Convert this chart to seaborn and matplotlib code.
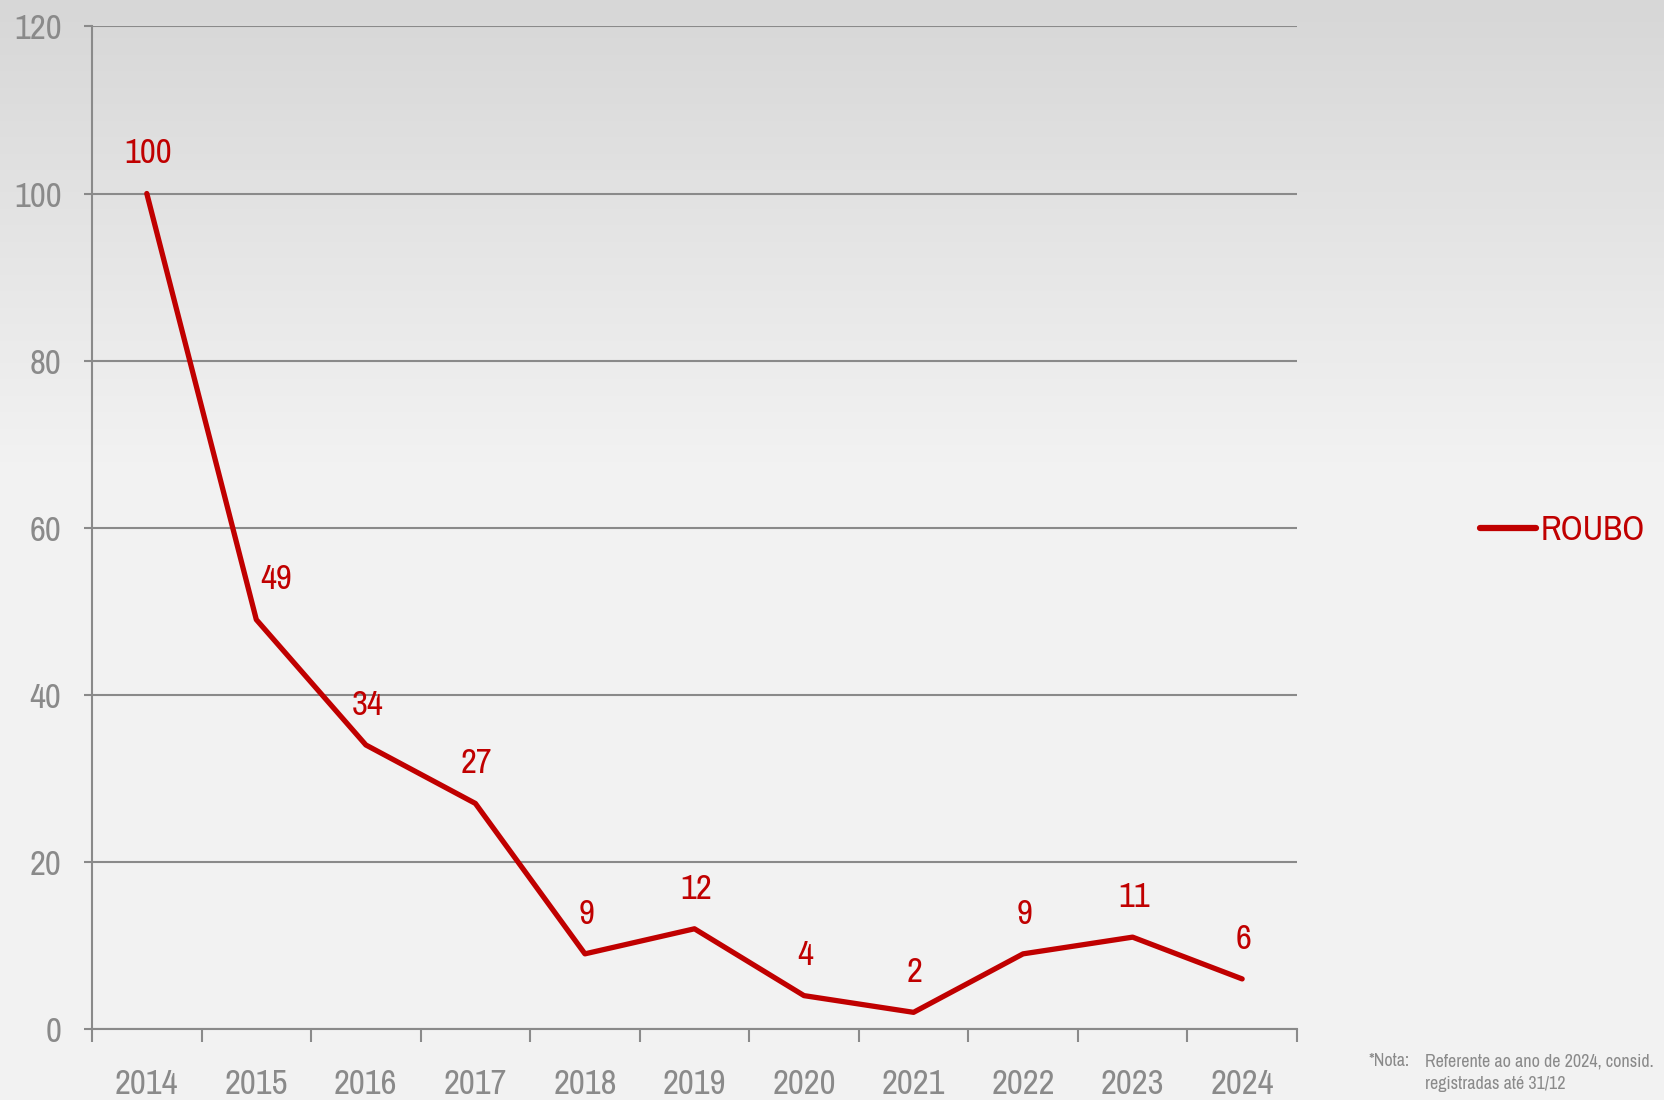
import numpy as np
import pandas as pd
import matplotlib
matplotlib.use("Agg")
import matplotlib.pyplot as plt
import seaborn as sns
from matplotlib import font_manager as fm
from matplotlib.ticker import FixedLocator

# ============================
# Dados
# ============================
anos = ["2014", "2015", "2016", "2017", "2018", "2019",
        "2020", "2021", "2022", "2023", "2024"]
roubo = [100, 49, 34, 27, 9, 12, 4, 2, 9, 11, 6]
yticks = [0, 20, 40, 60, 80, 100, 120]

vermelho = "#c00000"
cinza = "#8a8a8a"

sns.set_style("white")

# fonte estreita, se houver alguma instalada
estreitas = [f for f in fm.fontManager.ttflist
             if f.stretch in ("condensed", "semi-condensed", "extra-condensed")
             or "Narrow" in f.name or "Condensed" in f.name]
nomes = sorted({f.name for f in estreitas})
fonte = nomes[0] if nomes else "DejaVu Sans"
plt.rcParams["font.family"] = [fonte, "DejaVu Sans"]
plt.rcParams["font.stretch"] = "condensed"
plt.rcParams["font.weight"] = "bold"

df = pd.DataFrame({"pos": np.arange(len(anos)), "valor": roubo})

fig = plt.figure(figsize=(16.64, 11), dpi=100)

# fundo em degradê
bg = fig.add_axes([0, 0, 1, 1], zorder=-10)
t = np.clip(np.linspace(0, 1, 200) / 0.42, 0, 1)
topo = np.array([0xd7, 0xd7, 0xd7]) / 255
base = np.array([0xf2, 0xf2, 0xf2]) / 255
cores = (topo + (base - topo) * t[:, None])[:, None, :]
bg.imshow(cores, aspect="auto", extent=[0, 1, 0, 1], origin="upper")
bg.axis("off")

ax = fig.add_axes([0.0553, 0.0645, 0.7241, 0.9115])
ax.patch.set_alpha(0)

sns.lineplot(data=df, x="pos", y="valor", ax=ax, color=vermelho,
             linewidth=3.8, label="ROUBO")

# rótulos dos valores
for x, v in zip(df["pos"], df["valor"]):
    dx = 14 if v == 49 else 1
    ax.annotate(str(v), (x, v), xytext=(dx, 29), textcoords="offset points",
                ha="center", va="center", fontsize=25, color=vermelho)

ax.set_xlim(-0.5, len(anos) - 0.5)
ax.set_ylim(0, 120)
ax.set_yticks(yticks)
ax.set_yticklabels([str(y) for y in yticks])
ax.set_xticks(np.arange(len(anos)))
ax.set_xticklabels(anos)
ax.xaxis.set_minor_locator(FixedLocator(np.arange(-0.5, len(anos), 1)))

ax.grid(axis="y", color=cinza, linewidth=1.5)
ax.set_axisbelow(True)
for lado in ["top", "right"]:
    ax.spines[lado].set_visible(False)
for lado in ["left", "bottom"]:
    ax.spines[lado].set_color(cinza)
    ax.spines[lado].set_linewidth(1.5)

ax.tick_params(axis="y", which="major", length=6, width=1.5, color=cinza,
               direction="out", pad=16, labelsize=25, labelcolor=cinza, left=True)
ax.tick_params(axis="x", which="major", length=0, pad=28,
               labelsize=25, labelcolor=cinza)
ax.tick_params(axis="x", which="minor", length=9, width=1.5, color=cinza,
               direction="out", bottom=True)
ax.set_xlabel("")
ax.set_ylabel("")

leg = ax.legend(loc="center right", bbox_to_anchor=(0.997, 0.518),
                bbox_transform=fig.transFigure, borderaxespad=0,
                frameon=False, fontsize=25, handlelength=1.6,
                handletextpad=0.15, labelcolor=vermelho)
for h in leg.get_lines():
    h.set_linewidth(4.5)
    h.set_solid_capstyle("round")

fig.text(0.8227, 0.035, "*Nota:", fontsize=13, color=cinza, va="center",
         fontweight="normal")
fig.text(0.8563, 0.035, "Referente ao ano de 2024, consid.",
         fontsize=13, color=cinza, va="center", fontweight="normal")
fig.text(0.8563, 0.0145, "registradas até 31/12", fontsize=13, color=cinza,
         va="center", fontweight="normal")

fig.savefig("out.png", dpi=100)
